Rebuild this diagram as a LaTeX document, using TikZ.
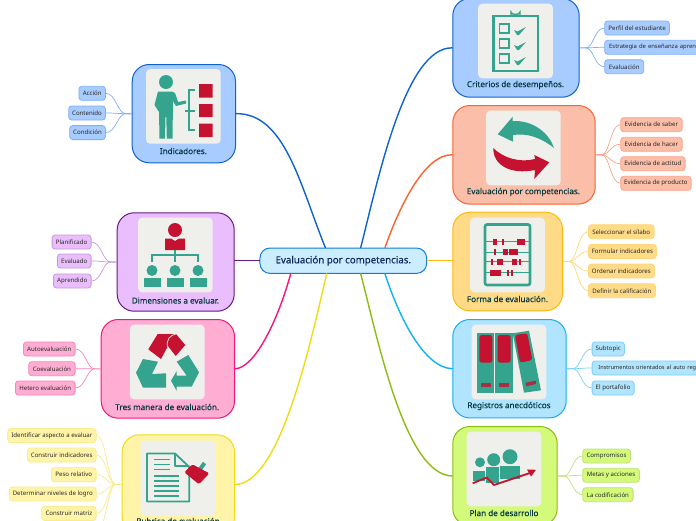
\documentclass[tikz,border=0pt]{standalone}
\usepackage{fontspec}
\setmainfont{Noto Sans}
\newfontfamily\capfont[FakeBold=0.25]{Noto Sans}
\usetikzlibrary{calc}
\definecolor{bluefill}{HTML}{A8CCFF}\definecolor{blueline}{HTML}{0E63D2}\definecolor{bluekid}{HTML}{7FB0F5}
\definecolor{purpfill}{HTML}{EABEFC}\definecolor{purpline}{HTML}{651A7C}\definecolor{purpkid}{HTML}{C79ADA}
\definecolor{pinkfill}{HTML}{FFADD3}\definecolor{pinkline}{HTML}{F2157C}\definecolor{pinkkid}{HTML}{FB84BC}
\definecolor{yelfill}{HTML}{FFF4A8}\definecolor{yelline}{HTML}{F0DC14}\definecolor{yelkid}{HTML}{F8EC8C}
\definecolor{redfill}{HTML}{FBBEA9}\definecolor{redline}{HTML}{F96330}\definecolor{redkid}{HTML}{FBA489}
\definecolor{ambfill}{HTML}{FFDB87}\definecolor{ambline}{HTML}{FFB70C}\definecolor{ambkid}{HTML}{FFD77A}
\definecolor{skyfill}{HTML}{B1E4FF}\definecolor{skyline}{HTML}{10B0F5}\definecolor{skykid}{HTML}{7CD0FA}
\definecolor{grnfill}{HTML}{D4FA7C}\definecolor{grnline}{HTML}{8DBC12}\definecolor{grnkid}{HTML}{C2E07A}
\definecolor{teal2}{HTML}{35A48E}\definecolor{crim}{HTML}{C41230}\definecolor{paper}{HTML}{EFF0EC}
\definecolor{darktxt}{HTML}{04393F}\definecolor{maintxt}{HTML}{0C2A5C}\definecolor{kidtxt}{HTML}{262626}
\tikzset{
  bigbox/.style={draw=#1line,fill=#1fill,line width=1pt,rounded corners=17pt,inner sep=0pt},
  kidbox/.style={draw=#1kid,fill=#1fill,line width=.8pt,rounded corners=3pt,inner sep=0pt,minimum height=14pt,anchor=west,font=\fontsize{6.1}{7}\selectfont,text=kidtxt},
  photo/.style={fill=paper,draw=none,rounded corners=4pt,inner sep=0pt,minimum width=74.6pt,minimum height=74.6pt},
  caption/.style={font=\capfont\fontsize{8.1}{10}\selectfont,text=darktxt,inner sep=0pt},
  mainlink/.style={line width=1.4pt,line cap=round},
  kidlink/.style={draw=#1kid,line width=.7pt},
  ink/.style={fill=teal2,draw=none},
  inkred/.style={fill=crim,draw=none},
}
\newcommand{\kidt}[7][]{\pgfmathsetmacro{\kw}{#4-#3}\node[kidbox=#2,minimum width=\kw pt,#1] (#5) at (#3,#6) {#7};}
\newcommand{\bigb}[6]{\pgfmathsetmacro{\bw}{#4-#3}\pgfmathsetmacro{\bh}{#6-#5}\node[bigbox=#2,minimum width=\bw pt,minimum height=\bh pt,anchor=north west] (#1) at (#3,#5) {};}
\begin{document}
\begin{tikzpicture}[x=1pt,y=-1pt]
\useasboundingbox (0,0) rectangle (696,520);
\clip (0,0) rectangle (696,520);
\fill[white] (0,0) rectangle (696,520);
% boxes
\bigb{ind}{blue}{131.7}{235}{64}{162.3}
\bigb{dim}{purp}{116.7}{233.7}{212.3}{310.7}
\bigb{tres}{pink}{100.7}{234}{319}{417.7}
\bigb{rub}{yel}{121.7}{234}{434.4}{533.6}
\bigb{cri}{blue}{452.3}{578.7}{-2}{96.7}
\bigb{eva}{red}{452.3}{594.7}{105}{203.6}
\bigb{for}{amb}{452.3}{562}{211.7}{310.3}
\bigb{reg}{sky}{452.3}{565.7}{319}{417.4}
\bigb{pla}{grn}{452.3}{556.7}{426}{525}
% central topic
\node[draw=blueline!65!skyline,fill=skyfill!65!white,line width=1pt,rounded corners=10pt,minimum width=166.7pt,minimum height=25.3pt,inner sep=0pt,font=\capfont\fontsize{9.7}{11}\selectfont,text=maintxt] (main) at (343.3,260.7) {Evaluación por competencias.};
% main connectors
\draw[mainlink,blueline] (ind.east) .. controls (285,113) and (300,185) .. ($(main.north)+(-18,0)$);
\draw[mainlink,blueline] (cri.west) .. controls (405,47) and (378,180) .. ($(main.north)+(17.4,0)$);
\draw[mainlink,redline] (eva.west) .. controls (425,154) and (400,205) .. ($(main.north)+(41.7,0)$);
\draw[mainlink,ambline] (main.east) -- (main.east -| for.west);
\draw[mainlink,skyline] (reg.west) .. controls (425,368) and (400,320) .. ($(main.south)+(41.7,0)$);
\draw[mainlink,grnline] (pla.west) .. controls (405,475) and (378,340) .. ($(main.south)+(17.4,0)$);
\draw[mainlink,yelline] (rub.east) .. controls (280,484) and (310,345) .. ($(main.south)+(-16.6,0)$);
\draw[mainlink,pinkline] (tres.east) .. controls (255,368) and (278,320) .. ($(main.south)+(-52.6,0)$);
\draw[mainlink,purpline] (dim.east |- main.west) -- (main.west);
% photos
\node[photo] (p1) at (183.4,106.4) {};
\node[photo] (p2) at (175.4,255) {};
\node[photo] (p3) at (167.2,362) {};
\node[photo] (p4) at (177.9,478) {};
\node[photo] (p5) at (515.5,41) {};
\node[photo] (p6) at (523.4,148) {};
\node[photo] (p7) at (507.5,255) {};
\node[photo] (p8) at (509,362) {};
\node[photo] (p9) at (504,469) {};
% captions
\node[caption] (c1) at (183.4,151) {Indicadores.};
\node[caption] (c2) at (175.4,300.5) {Dimensiones a evaluar.};
\node[caption] (c3) at (167.2,407) {Tres manera de evaluación.};
\node[caption] (c4) at (178,521) {Rubrica de evaluación};
\node[caption] (c5) at (515.5,85) {Criterios de desempeños.};
\node[caption] (c6) at (523.4,192) {Evaluación por competencias.};
\node[caption] (c7) at (507.5,299) {Forma de evaluación.};
\node[caption] (c8) at (509,406) {Registros anecdóticos};
\node[caption] (c9) at (504,513) {Plan de desarrollo};
% kids left
\kidt{blue}{78.5}{105}{k11}{93.3}{Acción}
\kidt{blue}{68.3}{105}{k12}{113}{Contenido}
\kidt{blue}{69.3}{105}{k13}{132.6}{Condición}
\kidt{purp}{51.7}{90.7}{k21}{242}{Planificado}
\kidt{purp}{57}{90.7}{k22}{261}{Evaluado}
\kidt{purp}{53}{90.7}{k23}{281}{Aprendido}
\kidt{pink}{23}{74.7}{k31}{349}{Autoevaluación}
\kidt{pink}{28.3}{74.7}{k32}{368.7}{Coevaluación}
\kidt{pink}{15}{74.7}{k33}{388}{Hetero evaluación}
\kidt{yel}{7.3}{95.7}{k41}{435.5}{Identificar aspecto a evaluar}
\kidt{yel}{27}{95.7}{k42}{455}{Construir indicadores}
\kidt{yel}{51}{95.7}{k43}{474.7}{Peso relativo}
\kidt{yel}{9}{95.7}{k44}{494}{Determinar niveles de logro}
\kidt{yel}{41.3}{95.7}{k45}{513.5}{Construir matriz}
\coordinate (k46) at (95.7,533);
% kids right
\kidt{blue}{604.3}{669}{k51}{28}{Perfil del estudiante}
\kidt[text width=87pt,align=left]{blue}{604.3}{700.3}{k52}{47.3}{\fontsize{5.9}{7}\selectfont Estrategia de enseñanza apren}
\kidt{blue}{604.3}{643.3}{k53}{66.7}{Evaluación}
\kidt{red}{620.3}{681.7}{k61}{124.7}{Evidencia de saber}
\kidt{red}{620.3}{681.7}{k62}{144.3}{Evidencia de hacer}
\kidt{red}{620.3}{684.7}{k63}{163.7}{Evidencia de actitud}
\kidt{red}{620.3}{690.7}{k64}{183.3}{Evidencia de producto}
\kidt{amb}{588}{653.7}{k71}{231.7}{Seleccionar el sílabo}
\kidt{amb}{588}{656}{k72}{251.5}{Formular indicadores}
\kidt{amb}{588}{654}{k73}{271}{Ordenar indicadores}
\kidt{amb}{588}{655}{k74}{290.7}{Definir la calificación}
\kidt{sky}{591.7}{624}{k81}{349}{Subtopic}
\kidt[text width=100pt,align=left]{sky}{591.7}{704.3}{k82}{368}{\fontsize{5.6}{7}\selectfont\mbox{Instrumentos orientados al auto reg}}
\kidt{sky}{591.7}{633.7}{k83}{388}{El portafolio}
\kidt{grn}{582.3}{630}{k91}{456}{Compromisos}
\kidt{grn}{582.3}{639}{k92}{475.3}{Metas y acciones}
\kidt{grn}{582.3}{632.7}{k93}{494.7}{La codificación}
% kid connectors
\foreach \k/\b/\c in {k11/ind/blue,k12/ind/blue,k13/ind/blue,k21/dim/purp,k22/dim/purp,k23/dim/purp,k31/tres/pink,k32/tres/pink,k33/tres/pink,k41/rub/yel,k42/rub/yel,k43/rub/yel,k44/rub/yel,k45/rub/yel}
  \draw[kidlink=\c] (\k.east) .. controls +(10,0) and +(-8,0) .. ($(\b.west)+(-6,0)$) -- (\b.west);
\draw[kidlink=yel] (k46) .. controls +(10,0) and +(-8,0) .. ($(rub.west)+(-6,0)$);
\foreach \k/\b/\c in {k51/cri/blue,k52/cri/blue,k53/cri/blue,k61/eva/red,k62/eva/red,k63/eva/red,k64/eva/red,k71/for/amb,k72/for/amb,k73/for/amb,k74/for/amb,k81/reg/sky,k82/reg/sky,k83/reg/sky,k91/pla/grn,k92/pla/grn,k93/pla/grn}
  \draw[kidlink=\c] (\b.east) -- ($(\b.east)+(6,0)$) .. controls +(8,0) and +(-10,0) .. (\k.west);
% icon 1 presenter
\fill[ink] (166,82) circle (7);
\fill[ink] (158,91.5) -- (172,91.5) -- (175,93) -- (178,102) -- (186,100.5) -- (186,103.5) -- (176,106) -- (173,101) -- (172.5,138.5) -- (166.8,138.5) -- (166.3,117) -- (165.5,117) -- (165,138.5) -- (159.5,138.5) -- (159,112) -- (154.5,105) -- cycle;
\draw[draw=teal2,line width=2pt] (195,90) -- (188.5,90) -- (188.5,130) -- (195,130) (184.5,110.5) -- (195,110.5);
\fill[inkred] (199,84) rectangle (212.5,97.5) (199,104) rectangle (212.5,117) (199,123.5) rectangle (212.5,137);
% icon 2 hierarchy
\fill[inkred] (175,230) circle (7);
\fill[inkred] (165,238.5) -- (171,238.5) -- (175,241) -- (179,238.5) -- (185,238.5) -- (185,250) -- (165,250) -- cycle;
\draw[draw=teal2,line width=1.2pt] (175,250) -- (175,255) (152,262) -- (152,255) -- (198,255) -- (198,262) (175,255) -- (175,262);
\foreach \px in {152,175,198}{
  \fill[ink] (\px,270.5) circle (5.5);
  \fill[ink] (\px-8.5,278) -- (\px+8.5,278) -- (\px+8.5,287) -- (\px-8.5,287) -- cycle;
}
% icon 3 recycle
\fill[inkred] (148.3,349.3) -- (157.7,334) -- (176,334) -- (185.3,345) -- (175.7,356) -- (168,346) -- (161,359) -- cycle;
\draw[draw=paper,line width=.7pt] (176,334) .. controls (170,335) and (166,340) .. (167.5,347);
\fill[ink] (136,372.7) -- (143,359) -- (158,361.7) -- (152,374) -- (166,373.3) -- (166,387.7) -- (143,387.7) -- cycle;
\fill[ink] (176.7,361.7) -- (188.3,355) -- (199,372.3) -- (191.7,386.7) -- (176.7,386.7) -- (176.7,391) -- (171,380.7) -- (176.7,371) -- (176.7,375.7) -- (186.7,375.7) -- cycle;
% icon 4 document and brush
\draw[draw=teal2,line width=1.8pt,line join=round] (189.3,467) -- (175,453.5) -- (147,453.5) -- (147,501.5) -- (189.3,501.5) -- cycle (175,453.5) -- (175,466) -- (189.3,466);
\foreach \ly/\lx in {459.3/170,464.3/170,469.3/170,476/179,481/179,486/179,491/179,496/179}
  \draw[draw=teal2,line width=1.2pt] (154,\ly) -- (\lx,\ly);
\draw[draw=teal2,line width=4pt] (199.5,470) -- (204.5,463);
\fill[inkred,rounded corners=1.5pt] (184.3,472.3) -- (192.3,464.3) -- (209.3,473.3) -- (199,484.3) -- cycle;
% icon 5 checklist
\draw[draw=teal2,line width=2.4pt] (493.5,16) rectangle (538,71);
\draw[draw=teal2,line width=1.4pt] (511,15) -- (511,12) arc (180:0:4.5 and 2.5) -- (520,15);
\foreach \cy in {24,39,54}{
  \draw[draw=teal2,line width=1.5pt] (499.5,\cy) rectangle (509,\cy+9);
  \fill[ink] (514,\cy+6) -- (517.5,\cy+7.5) -- (526,\cy+3) -- (519,\cy+11) -- (517,\cy+11) -- cycle;
}
% icon 6 arrows
\fill[ink] (497.7,134.3) -- (512.7,116.7) -- (512.5,121) .. controls (535,120) and (550,135) .. (554,148) .. controls (540,137) and (527,133) .. (513,135) -- (513,141.7) -- cycle;
\fill[inkred] (493.3,148) .. controls (503,158) and (520,163) .. (535,159) -- (534.3,155) -- (549.3,162.3) -- (534.3,179) -- (535,170) .. controls (510,175) and (493,165) .. (493.3,148) -- cycle;
% icon 7 abacus
\draw[draw=teal2,line width=2.6pt,rounded corners=2pt] (485,224.5) rectangle (530,285);
\foreach \ry in {241.7,252,261.7,272.7}
  \draw[draw=teal2,line width=.9pt] (486,\ry) -- (529,\ry);
\foreach \ax/\bx/\ry in {492.7/497.3/241.7,502.3/504.3/241.7,516.7/525.3/241.7,494/496/252,503.3/508/252,509.3/518/252,490.7/492.7/261.7,497.3/503.3/261.7,512/516.7/261.7,518.7/520.7/261.7,490/501.3/272.7,507.3/509.3/272.7,511.3/513.3/272.7}
  \fill[inkred] (\ax,\ry-2.9) rectangle (\bx,\ry+2.9);
% icon 8 binders
\fill[ink] (476.7,332.7) rectangle (494.3,393);
\fill[ink] (495.3,332.7) rectangle (513,393);
\fill[ink] (512.7,333.3) -- (529,330.7) -- (541,390.3) -- (524,392.7) -- cycle;
\fill[inkred,rounded corners=2.5pt] (479.3,335) rectangle (492.3,362.7);
\fill[inkred,rounded corners=2.5pt] (497.7,335) rectangle (510.7,362.7);
\fill[inkred,rounded corners=2.5pt] (515,335) -- (527.3,333.3) -- (532.3,360) -- (520,362.7) -- cycle;
\fill[crim!80!teal2] (480.7,382.7) rectangle (490.7,387);
\fill[crim!80!teal2] (499,382.7) rectangle (509,387);
\fill[crim!80!teal2] (525.7,382.7) -- (535.7,380.7) -- (536,384) -- (526,386.3) -- cycle;
% icon 9 team
\fill[ink] (480,462.3) circle (5) (493.7,459.7) circle (6.5) (510,456.7) circle (7.5);
\fill[ink] (472.7,470.5) rectangle (484.5,480.5);
\fill[ink] (485.7,467) rectangle (499.3,483);
\fill[ink] (500.2,466) rectangle (520,479);
\draw[draw=crim,line width=1.8pt,line join=round] (472.7,483.3) -- (486.7,477.5) -- (494,485) -- (530,473);
\fill[inkred] (527,469.5) -- (536,469.8) -- (531,476.5) -- cycle;
\end{tikzpicture}
\end{document}
